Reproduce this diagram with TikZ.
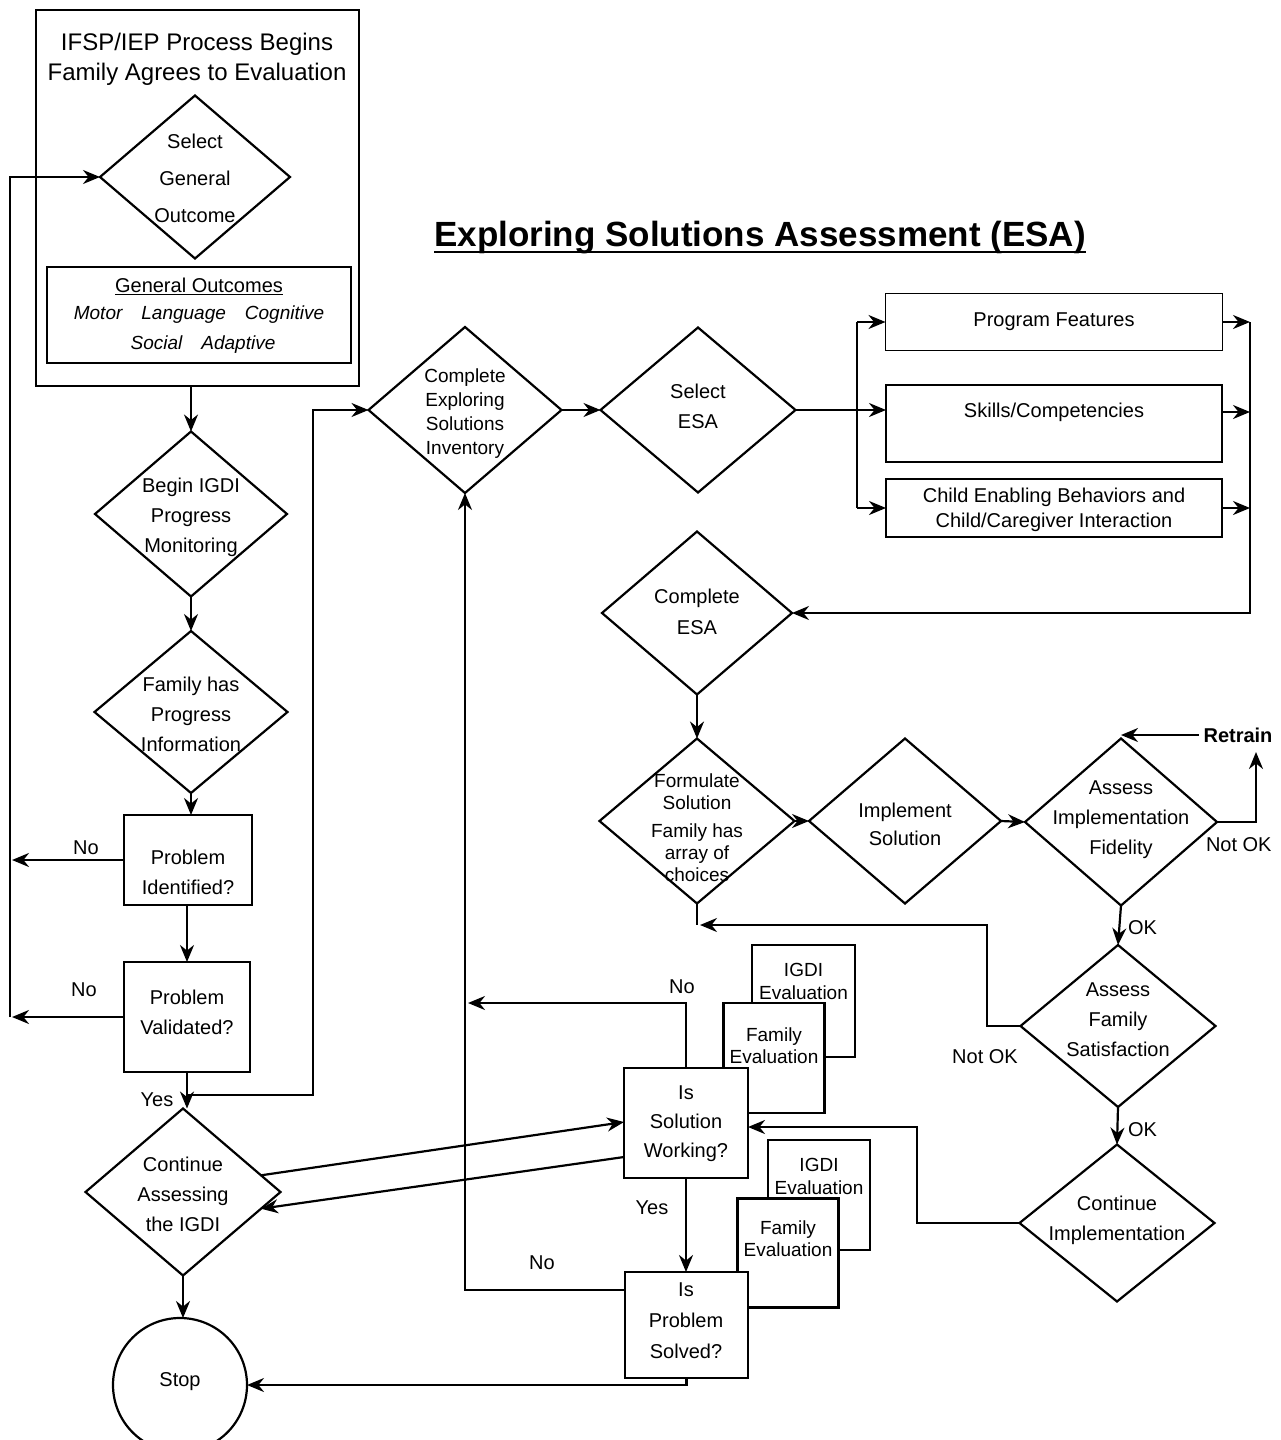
\documentclass[tikz,border=0pt]{standalone}
\usepackage{fontspec}
\setmainfont{Liberation Sans}
\usetikzlibrary{shapes.geometric,arrows.meta,calc}
\begin{document}
\begin{tikzpicture}[x=1pt,y=-1pt,
  every node/.style={inner sep=0pt,outer sep=0pt},
  dia/.style={diamond,draw,line width=2.2pt,fill=white},
  box/.style={rectangle,draw,line width=2.2pt,fill=white},
  txt/.style={align=center,font=\fontsize{20}{30}\selectfont},
  lab/.style={font=\fontsize{20}{24}\selectfont},
  conn/.style={line width=2.2pt,-{Stealth[length=17pt,width=14pt]}},
  ln/.style={line width=2.2pt}
]
\fill[white] (0,0) rectangle (1280,1440);
\useasboundingbox (0,0) rectangle (1280,1440);

% ---------- left column ----------
\node[box,line width=1.4pt,minimum width=323,minimum height=376] (start) at (197.5,198) {};
\node[txt,font=\fontsize{24}{30}\selectfont] (start-t) at (197,59) {IFSP/IEP Process Begins\\Family Agrees to Evaluation};

\node[dia,minimum width=190,minimum height=163] (selgo) at (195,177) {};
\node[txt,font=\fontsize{20}{37}\selectfont] (selgo-t) at (195,178) {Select\\General\\Outcome};

\node[box,line width=1.8pt,minimum width=304,minimum height=96] (outc) at (199,315) {};
\node[txt] (outc-h) at (199,285) {General Outcomes};
\draw[line width=1.2pt] ([yshift=-2.5pt]outc-h.base west) -- ([yshift=-2.5pt]outc-h.base east);
\node[txt,font=\fontsize{19}{22}\selectfont\itshape] (outc-1) at (199,315) {Motor\quad Language\quad Cognitive};
\node[txt,font=\fontsize{19}{22}\selectfont\itshape] (outc-2) at (203,345) {Social\quad Adaptive};

\node[dia,minimum width=192,minimum height=165] (beg) at (191,514) {};
\node[txt] (beg-t) at (191,517) {Begin IGDI\\Progress\\Monitoring};

\node[dia,minimum width=193,minimum height=162] (fam) at (191,712) {};
\node[txt] (fam-t) at (191,714) {Family has\\Progress\\Information};

\node[box,line width=2.6pt,minimum width=128,minimum height=90] (pid) at (188,860) {};
\node[txt] (pid-t) at (188,872) {Problem\\Identified?};

\node[box,line width=2.6pt,minimum width=126,minimum height=110] (pval) at (187,1017) {};
\node[txt] (pval-t) at (187,1012) {Problem\\Validated?};

\node[dia,minimum width=195,minimum height=167] (cont) at (183,1192) {};
\node[txt] (cont-t) at (183,1194) {Continue\\Assessing\\the IGDI};

\node[circle,draw,line width=2.2pt,fill=white,minimum size=134] (stop) at (180,1385) {};
\node[txt] (stop-t) at (180,1382) {Stop};

% ---------- title ----------
\node[font=\fontsize{35}{40}\selectfont\bfseries] (esa) at (760,238) {Exploring Solutions Assessment (ESA)};
\draw[line width=2.8pt] ([yshift=-5pt]esa.base west) -- ([yshift=-5pt]esa.base east);

% ---------- ESA row ----------
\node[dia,minimum width=193,minimum height=166] (cei) at (465,410) {};
\node[txt,font=\fontsize{19}{24}\selectfont] (cei-t) at (465,414) {Complete\\Exploring\\Solutions\\Inventory};

\node[dia,minimum width=195,minimum height=165] (sesa) at (698,410) {};
\node[txt] (sesa-t) at (698,406) {Select\\ESA};

\node[box,line width=1.8pt,minimum width=337,minimum height=57] (pf) at (1054,322) {};
\node[txt] (pf-t) at (1054,322) {Program Features};
\node[box,line width=1.8pt,minimum width=336,minimum height=77] (sk) at (1054,423.5) {};
\node[txt] (sk-t) at (1054,412) {Skills/Competencies};
\node[box,line width=2.4pt,minimum width=336,minimum height=58] (ch) at (1054,508) {};
\node[txt,font=\fontsize{20}{25}\selectfont] (ch-t) at (1054,510) {Child Enabling Behaviors and\\Child/Caregiver Interaction};

\node[dia,minimum width=190,minimum height=163] (cesa) at (697,613) {};
\node[txt,font=\fontsize{20}{31}\selectfont] (cesa-t) at (697,612) {Complete\\ESA};

\node[dia,minimum width=195,minimum height=165] (form) at (697,821) {};
\node[txt,font=\fontsize{19}{22}\selectfont] (form-t) at (697,828) {Formulate\\Solution\\[6pt]Family has\\array of\\choices};

\node[dia,minimum width=192,minimum height=165] (impl) at (905,821) {};
\node[txt,font=\fontsize{20}{28}\selectfont] (impl-t) at (905,824) {Implement\\Solution};

\node[dia,minimum width=192,minimum height=167] (aif) at (1121,822) {};
\node[txt] (aif-t) at (1121,820) {Assess\\Implementation\\Fidelity};

\node[dia,minimum width=195,minimum height=162] (afs) at (1118,1026) {};
\node[txt] (afs-t) at (1118,1020) {Assess\\Family\\Satisfaction};

\node[dia,minimum width=195,minimum height=157] (cimp) at (1117,1223) {};
\node[txt] (cimp-t) at (1117,1220) {Continue\\Implementation};

% ---------- evaluation boxes ----------
\node[box,minimum width=103,minimum height=112] (ig1) at (803.5,1001) {};
\node[txt,font=\fontsize{19}{23}\selectfont] (ig1-t) at (803.5,981) {IGDI\\Evaluation};
\node[box,minimum width=101,minimum height=110] (fe1) at (774,1058) {};
\node[txt,font=\fontsize{19}{22}\selectfont] (fe1-t) at (774,1046) {Family\\Evaluation};
\node[box,minimum width=124,minimum height=110] (issol) at (686,1123) {};
\node[txt,font=\fontsize{20}{29}\selectfont] (issol-t) at (686,1124) {Is\\Solution\\Working?};

\node[box,minimum width=102,minimum height=110] (ig2) at (819,1195) {};
\node[txt,font=\fontsize{19}{23}\selectfont] (ig2-t) at (819,1176) {IGDI\\Evaluation};
\node[box,minimum width=101,minimum height=109] (fe2) at (788,1253) {};
\node[txt,font=\fontsize{19}{22}\selectfont] (fe2-t) at (788,1239) {Family\\Evaluation};
\node[box,minimum width=123,minimum height=106] (isps) at (686.5,1325) {};
\node[txt,font=\fontsize{20}{31}\selectfont] (isps-t) at (686,1321) {Is\\Problem\\Solved?};

% ---------- labels ----------
\node[lab] (no1) at (86,848) {No};
\node[lab] (no2) at (84,990) {No};
\node[lab] (yes1) at (157,1100) {Yes};
\node[lab] (no3) at (682,987) {No};
\node[lab] (yes2) at (652,1208) {Yes};
\node[lab] (no4) at (542,1263) {No};
\node[lab,font=\fontsize{20}{24}\selectfont\bfseries] (retrain) at (1238,735) {Retrain};
\node[lab,anchor=west] (notok1) at (1206,845) {Not OK};
\node[lab,anchor=west] (ok1) at (1128,928) {OK};
\node[lab] (notok2) at (985,1057) {Not OK};
\node[lab,anchor=west] (ok2) at (1128,1130) {OK};

% ---------- coordinates ----------
\coordinate (lbot) at (12,1017);
\coordinate (ltop) at (10,177);
\coordinate (yesj) at (187,1095);
\coordinate (ry) at (313,1095);
\coordinate (bx) at (857,410);
\coordinate (rx) at (1250,322);
\coordinate (y412) at (0,412);
\coordinate (ra) at (1256,752);
\coordinate (nf) at (987,925);
\coordinate (ci) at (917,1127);
\coordinate (n1) at (468,1003);
\coordinate (v1) at (465,1290);

% ---------- connectors: left column ----------
\draw[conn] (beg.north |- start.south) -- (beg.north);
\draw[conn] (beg.south) -- (fam.north);
\draw[conn] (fam.south) -- (fam.south |- pid.north);
\draw[conn] (pid.south -| pval.north) -- (pval.north);
\draw[conn] (pval.south) -- (pval.south |- cont.north);
\draw[conn] (cont.south) -- (cont.south |- stop.north);
\draw[conn] (pid.west) -- (pid.west -| lbot);
\draw[conn] (pval.west) -- (pval.west -| lbot);
\draw[conn] (10,1017) -- (ltop) -- (selgo.west);
\draw[conn] (yesj) -- (ry) |- (cei.west);

% ---------- connectors: ESA ----------
\draw[conn] (cei.east) -- (sesa.west);
\draw[ln] (sesa.east) -- (bx);
\draw[ln] (bx |- pf.west) -- (bx |- ch.west);
\draw[conn] (bx |- pf.west) -- (pf.west);
\draw[conn] (bx) -- (bx -| sk.west);
\draw[conn] (bx |- ch.west) -- (ch.west);
\draw[conn] (pf.east) -- (pf.east -| rx);
\draw[conn] (sk.east |- y412) -- (rx |- y412);
\draw[conn] (ch.east) -- (ch.east -| rx);
\draw[conn] (rx) |- (cesa.east);
\draw[conn] (cesa.south) -- (form.north);
\draw[conn] (form.east) -- (impl.west);
\draw[conn] (impl.east) -- (aif.west);
\draw[conn] (aif.east) -| (ra);
\draw[conn] ([xshift=-5pt]retrain.west) -- (aif.north |- retrain.west);
\draw[conn] (aif.south) -- (afs.north);
\draw[conn] (afs.south) -- (cimp.north);
\draw[ln] (form.south) -- (form.south |- nf);
\draw[conn] (afs.west) -| (nf) -- ([xshift=3pt]form.south |- nf);
\draw[conn] (cimp.west) -| (ci) -- (ci -| issol.east);

% ---------- connectors: bottom ----------
\draw[conn] (issol.north) |- (n1);
\draw[conn] (isps.west |- v1) -- (v1) -- (cei.south);
\draw[conn] (issol.south) -- (issol.south |- isps.north);
\draw[conn] (isps.south) -- (isps.south |- stop.east) -- (stop.east);
\draw[conn] ($(cont.north)!0.8!(cont.east)$) -- ($(issol.west)+(0,-1)$);
\draw[conn] ($(issol.west)+(0,34)$) -- ($(cont.east)!0.2!(cont.south)$);
\end{tikzpicture}
\end{document}
